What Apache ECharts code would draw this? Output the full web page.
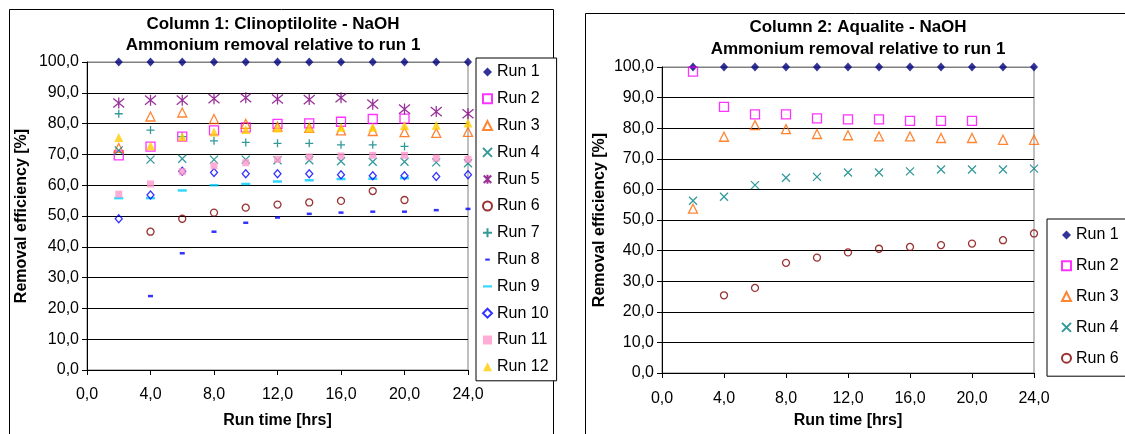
<!DOCTYPE html>
<html>
<head>
<meta charset="utf-8">
<script src="https://cdn.jsdelivr.net/npm/echarts@6/dist/echarts.min.js"></script>
<style>
  html, body { margin: 0; padding: 0; background: #fff; overflow: hidden; }
  #main { width: 1125px; height: 434px; }
</style>
</head>
<body>
<div id="main"></div>
<script>
// run time [hrs]
var hours = [2, 4, 6, 8, 10, 12, 14, 16, 18, 20, 22, 24];

// Column 1: Clinoptilolite - NaOH
var c1Run1 = [100, 100, 100, 100, 100, 100, 100, 100, 100, 100, 100, 100];
var c1Run2 = [69.7, 72.5, 75.8, 77.8, 78.8, 79.9, 80.1, 80.6, 81.5, 81.6, null, null];
var c1Run3 = [72.1, 82.3, 83.6, 81.5, 79.9, 79.0, 78.6, 77.8, 77.6, 77.2, 77.0, 77.3];
var c1Run4 = [71.3, 68.3, 68.6, 68.3, 68.3, 68.1, 68.1, 67.8, 67.6, 67.6, 67.4, 67.1];
var c1Run5 = [86.7, 87.6, 87.6, 88.1, 88.4, 88.0, 87.8, 88.4, 86.3, 84.7, 83.9, 83.2];
var c1Run6 = [null, 44.9, 49.1, 51.1, 52.7, 53.7, 54.4, 54.9, 58.1, 55.2, null, null];
var c1Run7 = [83.2, 77.9, 75.8, 74.4, 73.9, 73.6, 73.6, 73.1, 73.1, 72.6, null, null];
var c1Run8 = [null, 24.0, 37.9, 44.9, 47.8, 49.5, 50.7, 51.1, 51.4, 51.4, 51.9, 52.3];
var c1Run9 = [55.8, 55.8, 58.3, 60.0, 60.4, 61.2, 61.6, 62.0, 62.1, 62.3, null, null];
var c1Run10 = [49.1, 56.8, 64.5, 64.1, 63.7, 63.7, 63.7, 63.4, 63.1, 63.1, 62.8, 63.4];
var c1Run11 = [57.1, 60.4, 64.4, 66.3, 67.3, 68.4, 69.2, 69.5, 69.7, 69.7, 68.8, 68.4];
var c1Run12 = [75.5, 72.8, 75.7, 77.3, 78.1, 78.6, 78.6, 78.8, 78.8, 79.4, 79.5, 80.2];

// Column 2: Aqualite - NaOH
var c2Run1 = [100, 100, 100, 100, 100, 100, 100, 100, 100, 100, 100, 100];
var c2Run2 = [98.5, 87.0, 84.5, 84.5, 83.2, 82.9, 82.9, 82.4, 82.4, 82.4, null, null];
var c2Run3 = [53.7, 77.2, 81.0, 79.7, 78.1, 77.7, 77.3, 77.3, 76.8, 76.8, 76.2, 76.2];
var c2Run4 = [56.3, 57.6, 61.4, 63.8, 64.1, 65.5, 65.5, 65.9, 66.5, 66.5, 66.5, 66.8];
var c2Run6 = [null, 25.4, 27.8, 36.0, 37.7, 39.4, 40.6, 41.2, 41.8, 42.3, 43.4, 45.6];

var titles1 = ['Column 1: Clinoptilolite - NaOH', 'Ammonium removal relative to run 1'];
var titles2 = ['Column 2: Aqualite - NaOH', 'Ammonium removal relative to run 1'];
var names1 = ['Run 1', 'Run 2', 'Run 3', 'Run 4', 'Run 5', 'Run 6', 'Run 7', 'Run 8', 'Run 9', 'Run 10', 'Run 11', 'Run 12'];
var names2 = ['Run 1', 'Run 2', 'Run 3', 'Run 4', 'Run 6'];

var FONT = '"Liberation Sans", Arial, sans-serif';
var CLEAR = 'rgba(0,0,0,0)';

// marker look per run, Excel style
var markers = {
  'Run 1':  { symbol: 'diamond', size: [8, 9], fill: '#000080' },
  'Run 2':  { symbol: 'rect', size: 9, stroke: '#ff00ff' },
  'Run 3':  { symbol: 'triangle', size: 9, stroke: '#ff6600' },
  'Run 4':  { symbol: 'path://M0,0L10,10M10,0L0,10', size: 8, stroke: '#008080' },
  'Run 5':  { symbol: 'path://M0,0L10,10M10,0L0,10M5,-1L5,11', size: 11, stroke: '#800080' },
  'Run 6':  { symbol: 'circle', size: 7, stroke: '#800000' },
  'Run 7':  { symbol: 'path://M5,0L5,10M0,5L10,5', size: 8, stroke: '#008080' },
  'Run 8':  { symbol: 'rect', size: [5, 2.5], fill: '#0000ff',
              icon: 'path://M0,0M10,10M2.5,3.8h5v2.4h-5z' },
  'Run 9':  { symbol: 'rect', size: [9, 2.5], fill: '#00ccff',
              icon: 'path://M0,0M10,10M0,3.8h10v2.4h-10z' },
  'Run 10': { symbol: 'diamond', size: [7, 8], stroke: '#0000ff' },
  'Run 11': { symbol: 'rect', size: 7, fill: '#ff99cc' },
  'Run 12': { symbol: 'triangle', size: 9, fill: '#ffcc00' }
};

function toPoints(vals) {
  var out = [];
  for (var i = 0; i < vals.length; i++) {
    if (vals[i] != null) out.push([hours[i], vals[i]]);
  }
  return out;
}

function makeSeries(name, vals, idx) {
  var m = markers[name];
  var style = m.fill
    ? { color: m.fill, borderWidth: 0 }
    : { color: CLEAR, borderColor: m.stroke, borderWidth: 1.3 };
  return {
    name: name,
    type: 'scatter',
    xAxisIndex: idx,
    yAxisIndex: idx,
    symbol: m.symbol,
    symbolSize: m.size,
    itemStyle: style,
    emphasis: { disabled: true },
    animation: false,
    data: toPoints(vals)
  };
}

function legendData(names) {
  return names.map(function (n) {
    var m = markers[n];
    return m.icon ? { name: n, icon: m.icon } : { name: n };
  });
}

var fmt = function (v) { return v.toFixed(1).replace('.', ','); };
// top line of the plot area is the grey border, the rest are black
var splitColors = ['#000', '#000', '#000', '#000', '#000', '#000', '#000', '#000', '#000', '#000', '#808080'];

function xAxisOpt(idx, gap, margin) {
  return {
    type: 'value', gridIndex: idx, min: 0, max: 24, interval: 4,
    name: 'Run time [hrs]', nameLocation: 'middle', nameGap: gap,
    nameTextStyle: { fontFamily: FONT, fontSize: 16, fontWeight: 'bold', color: '#000' },
    axisLine: { onZero: false, lineStyle: { color: '#000', width: 1 } },
    axisTick: { show: true, length: 5, lineStyle: { color: '#000' } },
    axisLabel: { formatter: fmt, margin: margin, fontFamily: FONT, fontSize: 16, color: '#000' },
    splitLine: { show: false }
  };
}

function yAxisOpt(idx, gap) {
  return {
    type: 'value', gridIndex: idx, min: 0, max: 100, interval: 10,
    name: 'Removal efficiency [%]', nameLocation: 'middle', nameGap: gap,
    nameTextStyle: { fontFamily: FONT, fontSize: 16, fontWeight: 'bold', color: '#000' },
    axisLine: { show: true, onZero: false, lineStyle: { color: '#000', width: 1 } },
    axisTick: { show: true, length: 5, lineStyle: { color: '#000' } },
    axisLabel: { formatter: fmt, margin: 8, fontFamily: FONT, fontSize: 16, color: '#000' },
    splitLine: { show: true, lineStyle: { color: splitColors, width: 1 } }
  };
}

function titleText(txt, x, y) {
  return {
    type: 'text', x: x, y: y, silent: true,
    style: {
      text: txt, font: 'bold 17px ' + FONT, fill: '#000',
      textAlign: 'center', textVerticalAlign: 'middle',
      align: 'center', verticalAlign: 'middle'
    }
  };
}

var series = [];
var vals1 = [c1Run1, c1Run2, c1Run3, c1Run4, c1Run5, c1Run6, c1Run7, c1Run8, c1Run9, c1Run10, c1Run11, c1Run12];
var vals2 = [c2Run1, c2Run2, c2Run3, c2Run4, c2Run6];
names1.forEach(function (n, i) { series.push(makeSeries(n, vals1[i], 0)); });
names2.forEach(function (n, i) { series.push(makeSeries(n, vals2[i], 1)); });

var chart = echarts.init(document.getElementById('main'));

var option = {
  backgroundColor: '#fff',
  animation: false,
  grid: [
    { left: 87, top: 62, width: 381, height: 312, show: true, borderColor: '#808080', borderWidth: 1, backgroundColor: '#fff' },
    { left: 662, top: 67, width: 372, height: 310, show: true, borderColor: '#808080', borderWidth: 1, backgroundColor: '#fff' }
  ],
  xAxis: [xAxisOpt(0, 43, 17), xAxisOpt(1, 40, 18)],
  yAxis: [yAxisOpt(0, 57), yAxisOpt(1, 54)],
  legend: [
    {
      orient: 'vertical', left: 476, top: 58, align: 'left',
      data: legendData(names1),
      itemWidth: 9, itemHeight: 9, itemGap: 10.8,
      padding: [6, 8, 6, 6],
      borderColor: '#000', borderWidth: 1, backgroundColor: '#fff',
      selectedMode: false,
      textStyle: { fontFamily: FONT, fontSize: 16, color: '#000' }
    },
    {
      orient: 'vertical', left: 1047, top: 219, align: 'left',
      data: legendData(names2),
      itemWidth: 9, itemHeight: 9, itemGap: 14.8,
      padding: [8, 14, 10, 14],
      borderColor: '#000', borderWidth: 1, backgroundColor: '#fff',
      selectedMode: false,
      textStyle: { fontFamily: FONT, fontSize: 16, color: '#000' }
    }
  ],
  graphic: [
    { type: 'rect', silent: true, z: -10, shape: { x: 9.5, y: 9.5, width: 544, height: 440 },
      style: { fill: CLEAR, stroke: '#000', lineWidth: 1 } },
    { type: 'rect', silent: true, z: -10, shape: { x: 585.5, y: 13.5, width: 560, height: 440 },
      style: { fill: CLEAR, stroke: '#000', lineWidth: 1 } },
    titleText(titles1[0], 273, 24),
    titleText(titles1[1], 273, 45),
    titleText(titles2[0], 858, 27.5),
    titleText(titles2[1], 858, 49)
  ],
  series: series
};

chart.setOption(option);
</script>
</body>
</html>
